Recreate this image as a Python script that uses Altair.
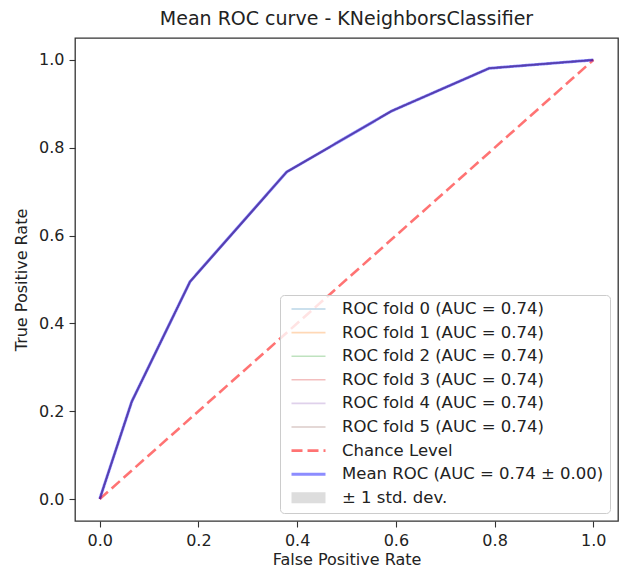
import altair as alt
import pandas as pd

# ---- data ----
fold_names = [f"ROC fold {i} (AUC = 0.74)" for i in range(6)]
chance_name = "Chance Level"
mean_name = "Mean ROC (AUC = 0.74 ± 0.00)"
std_name = "± 1 std. dev."

# each fold gives the same curve (all AUC = 0.74, std = 0.00)
fold_fpr = [0.0, 0.065, 0.183, 0.379, 0.592, 0.789, 1.0]
fold_tpr = [0.0, 0.222, 0.495, 0.745, 0.884, 0.981, 1.0]

mean_fpr = [0.0, 0.065, 0.183, 0.379, 0.592, 0.789, 1.0]
mean_tpr = [0.0, 0.222, 0.495, 0.745, 0.884, 0.981, 1.0]
std_tpr = [0.0, 0.0, 0.0, 0.0, 0.0, 0.0, 0.0]

chance_x = [0.0, 1.0]
chance_y = [0.0, 1.0]

ticks = [0.0, 0.2, 0.4, 0.6, 0.8, 1.0]

labels = fold_names + [chance_name, mean_name, std_name]
colors = [
    "rgba(31,119,180,0.3)", "rgba(255,127,14,0.3)", "rgba(44,160,44,0.3)",
    "rgba(214,39,40,0.3)", "rgba(148,103,189,0.3)", "rgba(140,86,75,0.3)",
    "rgba(255,0,0,0.55)", "rgba(0,0,255,0.45)", "rgba(128,128,128,0.27)",
]
widths = [1.6] * 6 + [2.6, 3.0, 11]
dashes = [[1, 0]] * 6 + [[11, 5], [1, 0], [1, 0]]

# ---- tables ----
folds_df = pd.DataFrame(
    [{"series": n, "fpr": x, "tpr": y, "order": k}
     for n in fold_names for k, (x, y) in enumerate(zip(fold_fpr, fold_tpr))]
)
chance_df = pd.DataFrame({"series": chance_name, "fpr": chance_x, "tpr": chance_y})
mean_df = pd.DataFrame({"series": mean_name, "fpr": mean_fpr, "tpr": mean_tpr})
band_df = pd.DataFrame({
    "series": std_name,
    "fpr": mean_fpr,
    "lo": [max(m - s, 0) for m, s in zip(mean_tpr, std_tpr)],
    "hi": [min(m + s, 1) for m, s in zip(mean_tpr, std_tpr)],
})

FONT = "DejaVu Sans"
xs = alt.Scale(domain=[-0.05, 1.05], nice=False, zero=False)
ys = alt.Scale(domain=[-0.05, 1.05], nice=False, zero=False)
cs = alt.Scale(domain=labels, range=colors)
ws = alt.Scale(type="ordinal", domain=labels, range=widths)
ds = alt.Scale(domain=labels, range=dashes)

xax = alt.Axis(title="False Positive Rate", values=ticks, format=".1f", titlePadding=3)
yax = alt.Axis(title="True Positive Rate", values=ticks, format=".1f", titlePadding=9)

legend = alt.Legend(
    title=None, orient="bottom-right", offset=8,
    symbolType="stroke", symbolSize=1156, clipHeight=16, rowPadding=6.6,
    labelFont=FONT, labelFontSize=16.5, labelColor="#222", labelOffset=11,
    labelLimit=400, symbolOpacity=1,
    fillColor="rgba(255,255,255,0.8)", strokeColor="#cccccc", cornerRadius=4,
    padding=6,
)


def encodings():
    return dict(
        color=alt.Color("series:N", scale=cs, legend=legend),
        strokeWidth=alt.StrokeWidth("series:N", scale=ws, legend=legend),
        strokeDash=alt.StrokeDash("series:N", scale=ds, legend=legend),
    )


def line_layer(df, ordered=False):
    enc = dict(
        x=alt.X("fpr:Q", scale=xs, axis=xax),
        y=alt.Y("tpr:Q", scale=ys, axis=yax),
        **encodings(),
    )
    if ordered:
        enc["order"] = "order:Q"
    return alt.Chart(df).mark_line().encode(**enc)


folds = line_layer(folds_df, ordered=True)
chance = line_layer(chance_df)
mean = line_layer(mean_df)
band = alt.Chart(band_df).mark_area().encode(
    x=alt.X("fpr:Q", scale=xs), y=alt.Y("lo:Q", scale=ys), y2="hi:Q",
    **encodings(),
)

chart = alt.layer(folds, chance, mean, band).properties(
    width=543, height=483,
    background="white",
    autosize=alt.AutoSizeParams(type="none"),
    padding={"left": 67, "top": 30, "right": 2, "bottom": 48},
    title=alt.Title("Mean ROC curve - KNeighborsClassifier", font=FONT, fontSize=19,
                    fontWeight="normal", color="#222", offset=9),
).configure_view(
    stroke="#333", strokeWidth=1.3,
).configure_axis(
    grid=False, domain=False,
    labelFont=FONT, labelFontSize=16, labelColor="#222",
    titleFont=FONT, titleFontSize=16, titleFontWeight="normal", titleColor="#222",
    tickColor="#333", tickSize=6, tickWidth=1.1, labelPadding=5,
)

chart.save("out.html", embed_options={"renderer": "svg", "actions": False})
